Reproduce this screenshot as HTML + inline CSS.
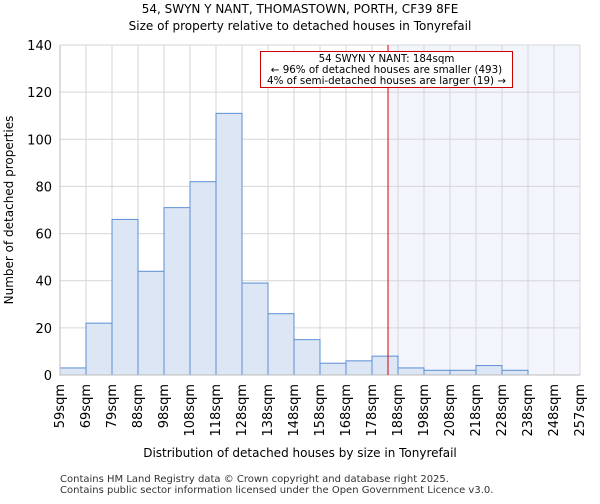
<!DOCTYPE html>
<html><head><meta charset="utf-8"><style>
body{margin:0;background:#fff;font-family:"DejaVu Sans","Liberation Sans",sans-serif;}
</style></head><body>
<svg id="chart" width="600" height="500" xmlns="http://www.w3.org/2000/svg" font-family="DejaVu Sans, Liberation Sans, sans-serif">
<text x="300" y="13" text-anchor="middle" font-size="12">54, SWYN Y NANT, THOMASTOWN, PORTH, CF39 8FE</text>
<text x="300" y="30" text-anchor="middle" font-size="12">Size of property relative to detached houses in Tonyrefail</text>
<g id="plot"></g>
<text x="300" y="457" text-anchor="middle" font-size="12">Distribution of detached houses by size in Tonyrefail</text>
<text x="13" y="210" text-anchor="middle" font-size="12" transform="rotate(-90 13 210)">Number of detached properties</text>
<text x="60" y="482" font-size="10" fill="#333">Contains HM Land Registry data © Crown copyright and database right 2025.</text>
<text x="60" y="493" font-size="10" fill="#333">Contains public sector information licensed under the Open Government Licence v3.0.</text>
</svg>
<script>
const binLabels=["59sqm","69sqm","79sqm","88sqm","98sqm","108sqm","118sqm","128sqm","138sqm","148sqm","158sqm","168sqm","178sqm","188sqm","198sqm","208sqm","218sqm","228sqm","238sqm","248sqm","257sqm"];
const counts=[3,22,66,44,71,82,111,39,26,15,5,6,8,3,2,2,4,2,0,0];
const yTicks=[0,20,40,60,80,100,120,140];
const propertyBinPos=12.6;
const NS="http://www.w3.org/2000/svg";
const L=60,R=580,T=45,B=375,YMAX=140;
const nb=counts.length,bw=(R-L)/nb;
const xs=i=>L+i*bw;
const ys=v=>B-v*(B-T)/YMAX;
const g=document.getElementById('plot');
function mk(t,a){const e=document.createElementNS(NS,t);for(const k in a)e.setAttribute(k,a[k]);g.appendChild(e);return e;}
const px=xs(propertyBinPos);
const sh=mk('rect',{x:px,y:T,width:R-px,height:B-T,fill:'#f2f5fc'});


for(let i=0;i<=nb;i++){const l=mk('line',{x1:xs(i),x2:xs(i),y1:T,y2:B,stroke:'#d6d6d6','stroke-width':1});

}
yTicks.forEach(v=>{const l=mk('line',{x1:L,x2:R,y1:ys(v),y2:ys(v),stroke:'#d6d6d6','stroke-width':1});


const t=mk('text',{x:L-8,y:ys(v)+5,'text-anchor':'end','font-size':13});t.textContent=v;

});
counts.forEach((c,i)=>{if(c<=0)return;const r=mk('rect',{x:xs(i),y:ys(c),width:bw,height:B-ys(c),fill:'#dce6f4',stroke:'#5b8fd6','stroke-width':1});

});
binLabels.forEach((s,i)=>{const x=xs(i)+4,y=B+9;const t=mk('text',{x:x,y:y,'text-anchor':'end','font-size':13,transform:`rotate(-90 ${x} ${y})`});t.textContent=s;

});
const ax=mk('line',{x1:L,x2:R,y1:B,y2:B,stroke:'#bbb'});


const ay=mk('line',{x1:L,x2:L,y1:T,y2:B,stroke:'#bbb'});


const ml=mk('rect',{x:Math.round(px)-0.5,y:T,width:1,height:B-T,fill:'#dd0000'});


const bx=mk('rect',{x:260.5,y:51.5,width:252,height:36,fill:'#fff',stroke:'#cc0000','stroke-width':1});


["54 SWYN Y NANT: 184sqm","← 96% of detached houses are smaller (493)","4% of semi-detached houses are larger (19) →"].forEach((s,i)=>{const t=mk('text',{x:386.5,y:62+i*11,'text-anchor':'middle','font-size':10.3});t.textContent=s;

});
</script>
</body></html>
